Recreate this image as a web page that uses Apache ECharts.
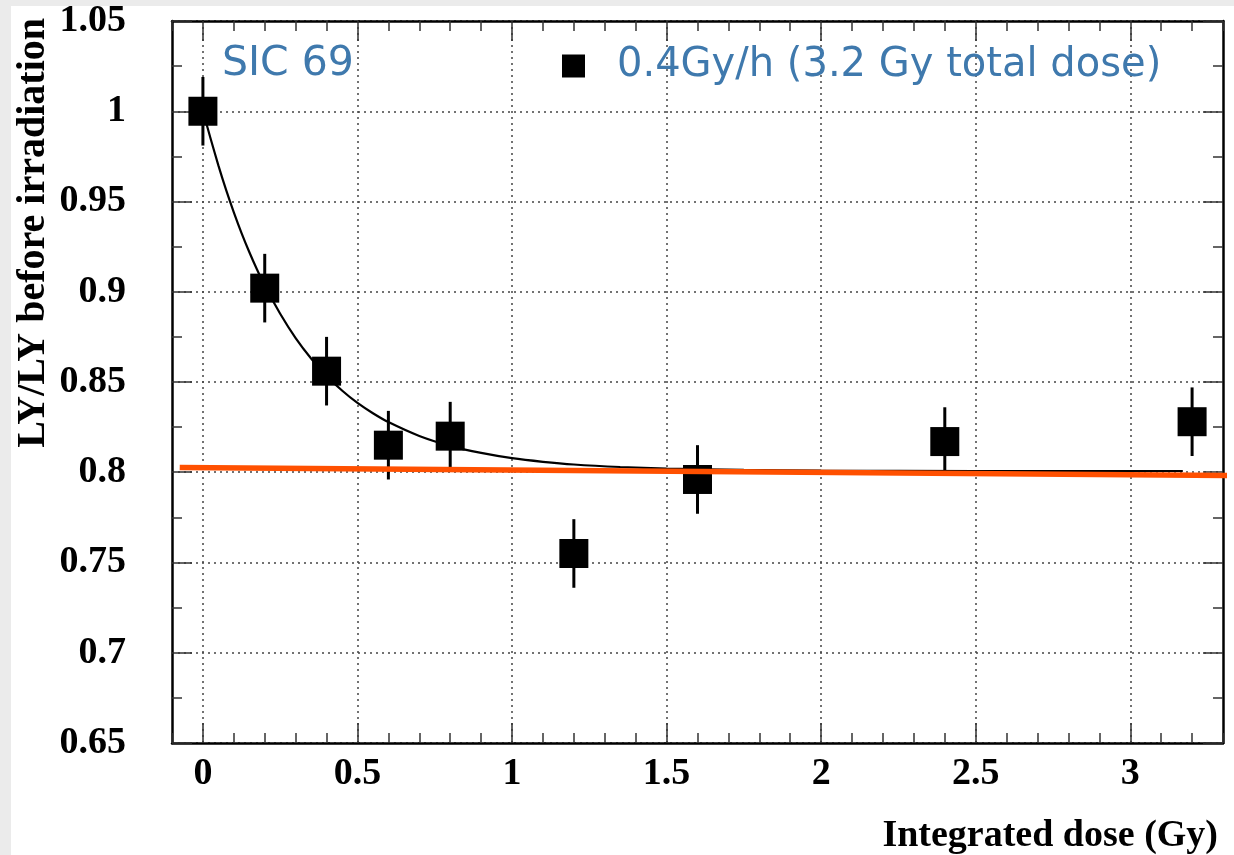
<!DOCTYPE html>
<html>
<head>
<meta charset="utf-8">
<script src="https://cdn.jsdelivr.net/npm/echarts@6/dist/echarts.min.js"></script>
<style>
  html, body { margin: 0; padding: 0; background: #fff; }
  #chart { width: 1234px; height: 855px; }
</style>
</head>
<body>
<div id="chart"></div>
<script>
// Light-yield ratio vs integrated dose for SIC 69 at 0.4 Gy/h
const doseGy   = [0, 0.2, 0.4, 0.6, 0.8, 1.2, 1.6, 2.4, 3.2];
const lyRatio  = [1.000, 0.902, 0.856, 0.815, 0.820, 0.755, 0.796, 0.817, 0.828];
const lyError  = [0.019, 0.019, 0.019, 0.019, 0.019, 0.019, 0.019, 0.019, 0.019];

// Exponential fit curve (sampled along the drawn curve)
const fitDose  = [0, 0.025, 0.05, 0.075, 0.1, 0.125, 0.15, 0.175, 0.2, 0.25, 0.3, 0.35, 0.4, 0.45, 0.5, 0.55, 0.6,
                  0.7, 0.8, 0.9, 1.0, 1.1, 1.2, 1.35, 1.5, 1.75, 2.0, 2.5, 3.17];
const fitRatio = [1.0000, 0.9848, 0.9700, 0.9564, 0.9440, 0.9325, 0.9220, 0.9123, 0.9034, 0.8878, 0.8743, 0.8630, 0.8534, 0.8453, 0.8384, 0.8327, 0.8278,
                  0.8201, 0.8146, 0.8107, 0.8078, 0.8058, 0.8043, 0.8029, 0.8020, 0.8013, 0.8009, 0.8007, 0.8007];

// Constant level line
const levelDose  = [-0.075, 3.317];
const levelRatio = [0.8026, 0.7982];

const xMajorTicks = [0, 0.5, 1, 1.5, 2, 2.5, 3];
const legendLabel = '0.4Gy/h (3.2 Gy total dose)';
const sampleLabel = 'SIC 69';

const X_MIN = -0.1, X_MAX = 3.3;
const Y_MIN = 0.65, Y_MAX = 1.05;

const serif = '"Liberation Serif", "Times New Roman", serif';
const tickColor = '#333';
const gridLine = { show: true, lineStyle: { color: '#444', width: 1.5, type: [2, 4] } };

function zip(a, b) { return a.map((v, i) => [v, b[i]]); }

const chart = echarts.init(document.getElementById('chart'), null, { renderer: 'canvas' });

const baseX = { type: 'value', min: X_MIN, max: X_MAX, gridIndex: 0 };
const baseY = { type: 'value', min: Y_MIN, max: Y_MAX, gridIndex: 0 };

chart.setOption({
  animation: false,
  backgroundColor: '#fff',
  grid: { left: 172, right: 11, top: 21, bottom: 112, containLabel: false },
  title: {
    text: sampleLabel,
    left: 222, top: 44, padding: 0,
    textStyle: { fontFamily: '"DejaVu Sans"', fontSize: 41, fontWeight: 'normal', color: '#3f79ad', lineHeight: 40 }
  },
  legend: {
    data: [{ name: legendLabel, icon: 'rect', itemStyle: { color: '#000', opacity: 1 } }],
    left: 562, top: 46, padding: 0,
    itemWidth: 23, itemHeight: 23,
    selectedMode: false,
    textStyle: { fontFamily: '"DejaVu Sans"', fontSize: 40, color: '#3f79ad', lineHeight: 40, padding: [0, 0, 0, 27] }
  },
  xAxis: [
    Object.assign({}, baseX, {
      position: 'bottom',
      axisLine: { show: true, onZero: false, lineStyle: { color: '#000', width: 2.5 } },
      axisTick: { show: true, inside: true, length: 20, customValues: xMajorTicks, lineStyle: { color: tickColor, width: 1.5 } },
      axisLabel: { show: true, customValues: xMajorTicks, margin: 12, fontFamily: serif, fontWeight: 'bold', fontSize: 38, color: '#000' },
      splitLine: gridLine
    }),
    Object.assign({}, baseX, {
      position: 'bottom', interval: 0.1,
      axisLine: { show: false, onZero: false },
      axisTick: { show: true, inside: true, length: 10, lineStyle: { color: tickColor, width: 1.5 } },
      axisLabel: { show: false }, splitLine: { show: false }
    }),
    Object.assign({}, baseX, {
      position: 'top',
      axisLine: { show: true, onZero: false, lineStyle: { color: '#000', width: 2.5 } },
      axisTick: { show: true, inside: true, length: 20, customValues: xMajorTicks, lineStyle: { color: tickColor, width: 1.5 } },
      axisLabel: { show: false }, splitLine: { show: false }
    }),
    Object.assign({}, baseX, {
      position: 'top', interval: 0.1,
      axisLine: { show: false, onZero: false },
      axisTick: { show: true, inside: true, length: 10, lineStyle: { color: tickColor, width: 1.5 } },
      axisLabel: { show: false }, splitLine: { show: false }
    })
  ],
  yAxis: [
    Object.assign({}, baseY, {
      position: 'left', interval: 0.05,
      axisLine: { show: true, onZero: false, lineStyle: { color: '#000', width: 2.5 } },
      axisTick: { show: true, inside: true, length: 20, lineStyle: { color: tickColor, width: 1.5 } },
      minorTick: { show: true, splitNumber: 2, length: 10, lineStyle: { color: tickColor, width: 1.5 } },
      axisLabel: { show: true, margin: 46, fontFamily: serif, fontWeight: 'bold', fontSize: 38, color: '#000' },
      splitLine: gridLine
    }),
    Object.assign({}, baseY, {
      position: 'right', interval: 0.05,
      axisLine: { show: true, onZero: false, lineStyle: { color: '#000', width: 2.5 } },
      axisTick: { show: true, inside: true, length: 20, lineStyle: { color: tickColor, width: 1.5 } },
      minorTick: { show: true, splitNumber: 2, length: 10, lineStyle: { color: tickColor, width: 1.5 } },
      axisLabel: { show: false }, splitLine: { show: false }
    })
  ],
  graphic: [
    { type: 'rect', z: -10, shape: { x: 0, y: 0, width: 1234, height: 6 }, style: { fill: '#ebebeb' } },
    { type: 'rect', z: -10, shape: { x: 0, y: 0, width: 11, height: 855 }, style: { fill: '#ebebeb' } },
    {
      type: 'text', x: 34, y: 18, rotation: Math.PI / 2,
      style: { text: 'LY/LY before irradiation', fill: '#000', font: 'bold 40px ' + serif, textAlign: 'right', textVerticalAlign: 'middle' }
    },
    {
      type: 'text', x: 1218, y: 836,
      style: { text: 'Integrated dose (Gy)', fill: '#000', font: 'bold 38px ' + serif, textAlign: 'right', textVerticalAlign: 'middle' }
    }
  ],
  series: [
    {
      name: 'errors', type: 'custom', xAxisIndex: 0, yAxisIndex: 0, z: 2,
      data: doseGy.map((x, i) => [x, lyRatio[i], lyError[i]]),
      renderItem: function (params, api) {
        const x = api.value(0), y = api.value(1), e = api.value(2);
        const lo = api.coord([x, y - e]);
        const hi = api.coord([x, y + e]);
        return { type: 'line', shape: { x1: lo[0], y1: lo[1], x2: hi[0], y2: hi[1] }, style: { stroke: '#000', lineWidth: 3 } };
      },
      silent: true
    },
    {
      name: legendLabel, type: 'scatter', xAxisIndex: 0, yAxisIndex: 0, z: 3,
      symbol: 'rect', symbolSize: 29,
      itemStyle: { color: '#000', opacity: 1 },
      data: zip(doseGy, lyRatio)
    },
    {
      name: 'fit', type: 'line', xAxisIndex: 0, yAxisIndex: 0, z: 4,
      showSymbol: false, symbol: 'none', smooth: 0.25,
      lineStyle: { color: '#000', width: 2.2 },
      data: zip(fitDose, fitRatio)
    },
    {
      name: 'level', type: 'line', xAxisIndex: 0, yAxisIndex: 0, z: 5, clip: false,
      showSymbol: false, symbol: 'none',
      lineStyle: { color: '#ff5000', width: 5.5 },
      data: zip(levelDose, levelRatio)
    }
  ]
});
</script>
</body>
</html>
